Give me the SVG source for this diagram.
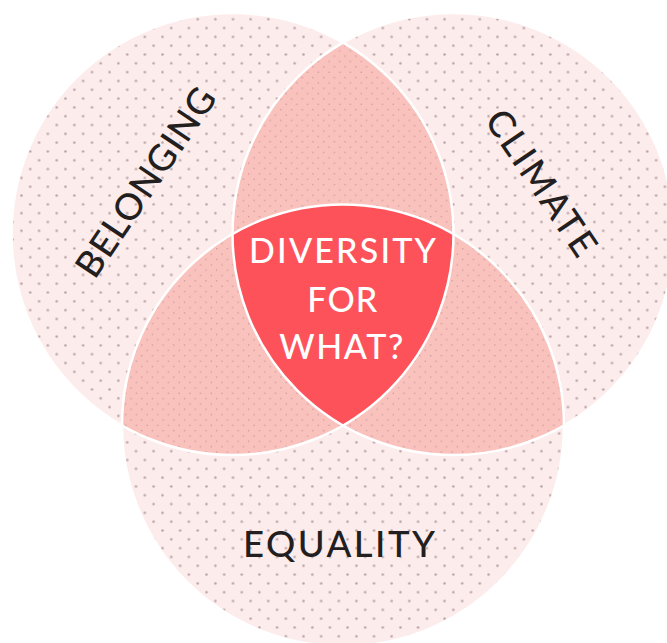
<svg xmlns="http://www.w3.org/2000/svg" width="667" height="643" viewBox="0 0 667 643">
<defs>
<pattern id="dots" patternUnits="userSpaceOnUse" x="-0.6" y="-2.8" width="17.63" height="17.63">
<circle cx="4.4" cy="4.4" r="1.25" fill="#b8a2a7"/>
<circle cx="13.2" cy="13.2" r="1.25" fill="#b8a2a7"/>
</pattern>
<pattern id="fine" patternUnits="userSpaceOnUse" x="0" y="0" width="10.7" height="10.7">
<circle cx="2.67" cy="2.67" r="0.75" fill="#c6949a"/>
<circle cx="8.02" cy="8.02" r="0.75" fill="#c6949a"/>
</pattern>
<style>
.outer{fill:#fdecec}
.dotfill{fill:url(#dots)}
.lens{fill:#fac2bd}
.fine{fill:url(#fine)}
.core{fill:#fe525b}
.edge{fill:none;stroke:#ffffff;stroke-width:2.5}
.lbl{font-family:Lato,"Open Sans",sans-serif;font-weight:500;font-size:36.5px;fill:#231f20;text-anchor:middle}
.corelbl{font-family:Lato,"Open Sans",sans-serif;font-weight:500;font-size:34px;fill:#ffffff;text-anchor:middle}
</style>
</defs>
<rect width="667" height="643" fill="#ffffff"/>
<g id="belonging">
<circle class="outer" cx="232.5" cy="234" r="221"/>
<circle class="dotfill" cx="232.5" cy="234" r="221"/>
</g>
<g id="climate">
<circle class="outer" cx="453.5" cy="234" r="221"/>
<circle class="dotfill" cx="453.5" cy="234" r="221"/>
</g>
<g id="equality">
<circle class="outer" cx="343" cy="425.4" r="221"/>
<circle class="dotfill" cx="343" cy="425.4" r="221"/>
</g>
<g id="overlaps">
<path class="lens" d="M343,42.6 A221,221 0 0,1 343,425.4 A221,221 0 0,1 343,42.6 Z"/>
<path class="fine" d="M343,42.6 A221,221 0 0,1 343,425.4 A221,221 0 0,1 343,42.6 Z"/>
<path class="lens" d="M122,425.4 A221,221 0 0,0 453.5,234 A221,221 0 0,0 122,425.4 Z"/>
<path class="fine" d="M122,425.4 A221,221 0 0,0 453.5,234 A221,221 0 0,0 122,425.4 Z"/>
<path class="lens" d="M564,425.4 A221,221 0 0,1 232.5,234 A221,221 0 0,1 564,425.4 Z"/>
<path class="fine" d="M564,425.4 A221,221 0 0,1 232.5,234 A221,221 0 0,1 564,425.4 Z"/>
</g>
<g id="center">
<path class="core" d="M232.5,234 A221,221 0 0,1 453.5,234 A221,221 0 0,1 343,425.4 A221,221 0 0,1 232.5,234 Z"/>
</g>
<g id="outlines">
<circle class="edge" cx="232.5" cy="234" r="221"/>
<circle class="edge" cx="453.5" cy="234" r="221"/>
<circle class="edge" cx="343" cy="425.4" r="221"/>
</g>
<g id="labels">
<text class="lbl" transform="translate(145.5,182) rotate(-56)" x="0" y="13" textLength="220" lengthAdjust="spacing">BELONGING</text>
<text class="lbl" transform="translate(541.5,182.5) rotate(56)" x="0" y="13" textLength="168" lengthAdjust="spacing">CLIMATE</text>
<text class="lbl" x="339" y="556.5" textLength="192" lengthAdjust="spacing">EQUALITY</text>
<text class="corelbl" x="342.5" y="262.7" textLength="187" lengthAdjust="spacing">DIVERSITY</text>
<text class="corelbl" x="342.3" y="311.5" textLength="70" lengthAdjust="spacing">FOR</text>
<text class="corelbl" x="341.3" y="358.5" textLength="124" lengthAdjust="spacing">WHAT?</text>
</g>
</svg>
